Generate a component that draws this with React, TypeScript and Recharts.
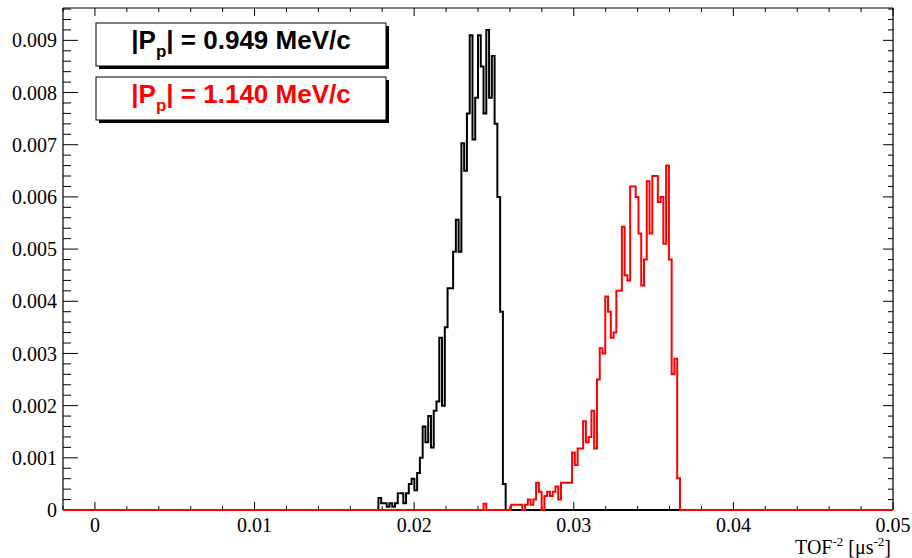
import { ComposedChart, Line, XAxis, YAxis, ReferenceLine } from "recharts";

// histogram binning (both spectra share the same bins)
const X_MIN = -0.002;
const X_MAX = 0.05;
const N_BINS = 300;
const Y_MAX = 0.00962;

// |Pp| = 0.949 MeV/c, first non-empty bin index + contents
const BLACK_FIRST_BIN = 114;
const BLACK_VALUES = [
  0.00023, 0.00013, 0.00013, 0.00006, 0.00013, 0.00006, 0.00013, 0.00032, 0.00032, 0.00013,
  0.00032, 0.0005, 0.0006, 0.00038, 0.00071, 0.001, 0.0016, 0.0013, 0.0018, 0.0012,
  0.0019, 0.00208, 0.0033, 0.002, 0.0035, 0.00425, 0.00425, 0.00495, 0.00556, 0.00495,
  0.00703, 0.0065, 0.0076, 0.0091, 0.0071, 0.0079, 0.0091, 0.0085, 0.0076, 0.0092,
  0.0079, 0.0087, 0.0074, 0.006, 0.0038, 0.0005,
];

// |Pp| = 1.140 MeV/c
const RED_FIRST_BIN = 152;
const RED_VALUES = [
  0.00012, 0, 0, 0, 0, 0, 0, 0, 0, 0,
  0.0001, 0.0001, 0.0001, 0.0001, 0, 0.0001, 0.0002, 0.0001, 0.0002, 0.00052,
  0.00035, 0, 0.00027, 0.00035, 0.00027, 0.00035, 0.00045, 0.0002, 0.00052, 0.00052,
  0.00052, 0.00052, 0.0011, 0.00086, 0.00118, 0.00118, 0.0017, 0.0013, 0.0014, 0.0019,
  0.00118, 0.0025, 0.0031, 0.003, 0.00409, 0.0038, 0.0033, 0.0034, 0.0042, 0.0042,
  0.00543, 0.0045, 0.0044, 0.0062, 0.0062, 0.006, 0.0053, 0.0043, 0.0048, 0.0063,
  0.0053, 0.0064, 0.0064, 0.0059, 0.006, 0.0051, 0.0066, 0.0048, 0.0026, 0.0029,
  0.00061,
];

const X_MAJOR_TICKS = [0, 0.01, 0.02, 0.03, 0.04, 0.05];
const X_MINOR_TICKS = Array.from({ length: 27 }, (_, i) => +(X_MIN + i * 0.002).toFixed(4));
const Y_MAJOR_TICKS = [0, 0.001, 0.002, 0.003, 0.004, 0.005, 0.006, 0.007, 0.008, 0.009];
const Y_MINOR_TICKS = Array.from({ length: 49 }, (_, i) => +(i * 0.0002).toFixed(4));

const LEGEND = [
  { value: "0.949", color: "#000000" },
  { value: "1.140", color: "#ff0000" },
];

const BIN_W = (X_MAX - X_MIN) / N_BINS;
const binValue = (vals: number[], first: number, k: number) => vals[k - first] ?? 0;

// stepAfter needs one extra point at the upper edge of the last bin
const rows = Array.from({ length: N_BINS + 1 }, (_, k) => {
  const b = Math.min(k, N_BINS - 1);
  return {
    x: X_MIN + k * BIN_W,
    black: binValue(BLACK_VALUES, BLACK_FIRST_BIN, b),
    red: binValue(RED_VALUES, RED_FIRST_BIN, b),
  };
});

const SERIF = "'Liberation Serif', 'Times New Roman', serif";
const SANS = "'Liberation Sans', Arial, sans-serif";
const W = 912;
const H = 558;
const MARGIN = { top: 8, right: 19, bottom: 0, left: 0 };
const Y_AXIS_W = 63;
const X_AXIS_H = 48;

// data units per screen pixel, so the tick marks get fixed pixel lengths
const PLOT_W = W - MARGIN.left - MARGIN.right - Y_AXIS_W;
const PLOT_H = H - MARGIN.top - MARGIN.bottom - X_AXIS_H;
const PX = (X_MAX - X_MIN) / PLOT_W;
const PY = Y_MAX / PLOT_H;

const fmtX = (v: number) => (v === 0 ? "0" : String(+v.toFixed(2)));
const fmtY = (v: number) => (v === 0 ? "0" : v.toFixed(3));

const AxisTitle = (props: any) => {
  const { x, y, width } = props.viewBox;
  return (
    <text x={x + width - 2} y={y + 44} textAnchor="end" fontFamily={SERIF} fontSize={20} fill="#000">
      TOF<tspan dy={-8} fontSize={13}>-2</tspan>
      <tspan dy={8}> [μs</tspan>
      <tspan dy={-8} fontSize={13}>-2</tspan>
      <tspan dy={8}>]</tspan>
    </text>
  );
};

// ROOT-style inward ticks on all four sides
const tickSegments = () => {
  const segs: { key: string; s: { x: number; y: number }[] }[] = [];
  X_MINOR_TICKS.forEach((t) => {
    const len = X_MAJOR_TICKS.includes(t) ? 8 : 4;
    segs.push({ key: `b${t}`, s: [{ x: t, y: 0 }, { x: t, y: len * PY }] });
    segs.push({ key: `t${t}`, s: [{ x: t, y: Y_MAX }, { x: t, y: Y_MAX - len * PY }] });
  });
  Y_MINOR_TICKS.forEach((t) => {
    const major = Y_MAJOR_TICKS.includes(t);
    segs.push({ key: `l${t}`, s: [{ x: X_MIN, y: t }, { x: X_MIN + (major ? 15 : 8) * PX, y: t }] });
    segs.push({ key: `r${t}`, s: [{ x: X_MAX, y: t }, { x: X_MAX - (major ? 10 : 5) * PX, y: t }] });
  });
  return segs;
};

export default function App() {
  return (
    <div style={{ position: "fixed", left: 0, top: 0, width: W, height: H, background: "#fff" }}>
      <ComposedChart width={W} height={H} data={rows} margin={MARGIN}>
        <XAxis
          xAxisId="x"
          dataKey="x"
          type="number"
          domain={[X_MIN, X_MAX]}
          ticks={X_MAJOR_TICKS}
          interval={0}
          height={X_AXIS_H}
          tickLine={false}
          axisLine={false}
          tickSize={6}
          tickMargin={2}
          tickFormatter={fmtX}
          tick={{ fill: "#000", fontFamily: SERIF, fontSize: 20 }}
          label={<AxisTitle />}
        />
        <YAxis
          yAxisId="y"
          type="number"
          domain={[0, Y_MAX]}
          ticks={Y_MAJOR_TICKS}
          interval={0}
          width={Y_AXIS_W}
          tickLine={false}
          axisLine={false}
          tickSize={6}
          tickMargin={0}
          tickFormatter={fmtY}
          tick={{ fill: "#000", fontFamily: SERIF, fontSize: 20 }}
        />

        {/* frame */}
        <ReferenceLine xAxisId="x" yAxisId="y" x={X_MIN} stroke="#000" strokeWidth={1.2} ifOverflow="visible" />
        <ReferenceLine xAxisId="x" yAxisId="y" x={X_MAX} stroke="#000" strokeWidth={1.2} ifOverflow="visible" />
        <ReferenceLine xAxisId="x" yAxisId="y" y={Y_MAX} stroke="#000" strokeWidth={1.2} ifOverflow="visible" />
        <ReferenceLine xAxisId="x" yAxisId="y" y={0} stroke="#000" strokeWidth={1.2} ifOverflow="visible" />
        {tickSegments().map((t) => (
          <ReferenceLine key={t.key} xAxisId="x" yAxisId="y" segment={t.s} stroke="#000" strokeWidth={1} ifOverflow="visible" />
        ))}

        <Line xAxisId="x" yAxisId="y" type="stepAfter" dataKey="black" stroke="#000000" strokeWidth={2} dot={false} activeDot={false} isAnimationActive={false} />
        <Line xAxisId="x" yAxisId="y" type="stepAfter" dataKey="red" stroke="#ff0000" strokeWidth={2} dot={false} activeDot={false} isAnimationActive={false} />
      </ComposedChart>

      <svg width={W} height={H} style={{ position: "absolute", left: 0, top: 0, pointerEvents: "none" }}>
        {LEGEND.map((l, i) => {
          const top = 23 + i * 54;
          return (
            <g key={l.value}>
              <rect x={99} y={top + 3} width={290} height={43} fill="#000" />
              <rect x={96} y={top} width={290} height={43} fill="#fff" stroke="#000" strokeWidth={1} />
              <text x={241} y={top + 26} textAnchor="middle" fontFamily={SANS} fontWeight="bold" fontSize={26} fill={l.color}>
                |P<tspan dy={8} fontSize={17}>p</tspan>
                <tspan dy={-8}>| = {l.value} MeV/c</tspan>
              </text>
            </g>
          );
        })}
      </svg>
    </div>
  );
}
